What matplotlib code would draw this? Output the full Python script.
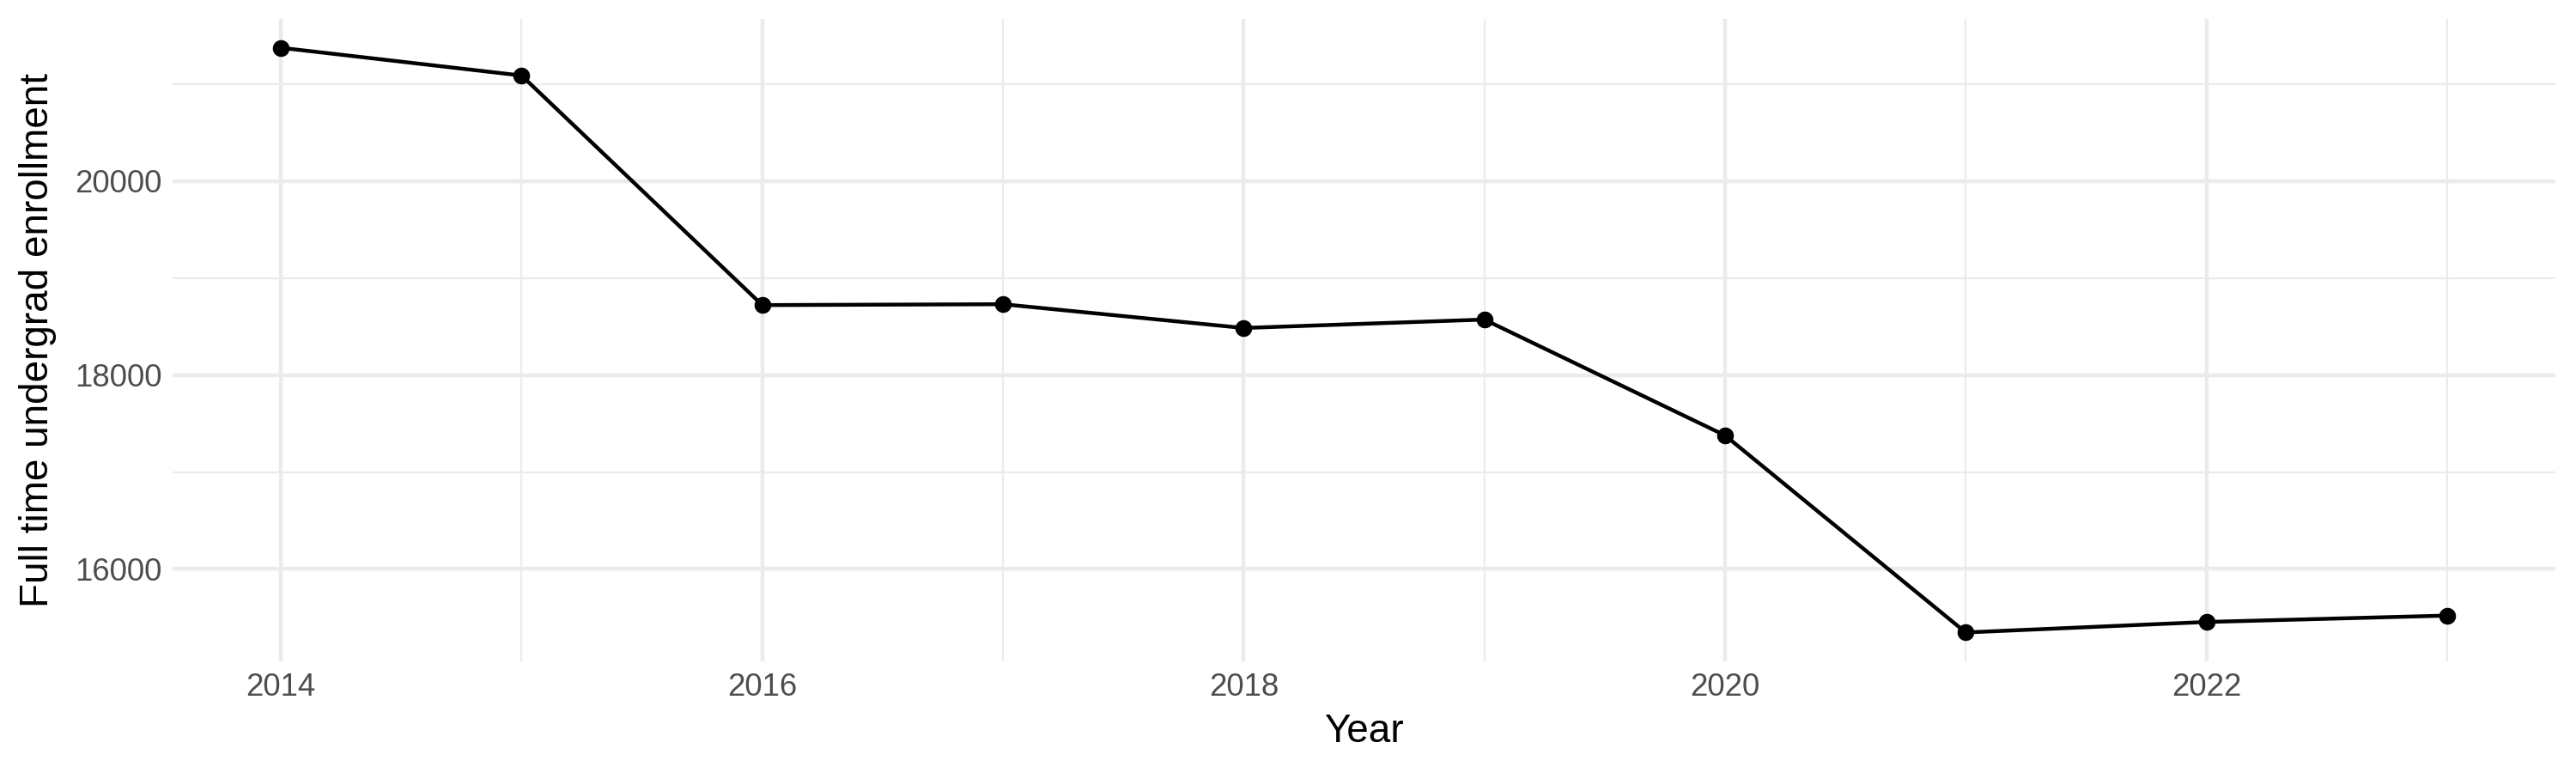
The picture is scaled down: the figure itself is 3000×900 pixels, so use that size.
import matplotlib
matplotlib.use("Agg")
import matplotlib.pyplot as plt
from matplotlib.ticker import MultipleLocator

years = [2014, 2015, 2016, 2017, 2018, 2019, 2020, 2021, 2022, 2023]
enrollment = [21372, 21086, 18720, 18729, 18484, 18571, 17377, 15346, 15454, 15520]
y_ticks = [16000, 18000, 20000]
x_ticks = [2014, 2016, 2018, 2020, 2022]

plt.rcParams['font.family'] = ['Liberation Sans', 'DejaVu Sans']

fig = plt.figure(figsize=(10, 3), dpi=300)
ax = fig.add_axes([0.067, 0.144, 0.925, 0.832])

ax.plot(years, enrollment, color='black', linewidth=1.07, zorder=3)
ax.scatter(years, enrollment, color='black', s=22, zorder=4, linewidths=0)

xr = max(years) - min(years)
ax.set_xlim(min(years) - 0.05 * xr, max(years) + 0.05 * xr)
yr = max(enrollment) - min(enrollment)
ax.set_ylim(min(enrollment) - 0.05 * yr, max(enrollment) + 0.05 * yr)

ax.set_xticks(x_ticks)
ax.set_yticks(y_ticks)
ax.xaxis.set_minor_locator(MultipleLocator(1))
ax.yaxis.set_minor_locator(MultipleLocator(1000))

ax.grid(which='major', color='#EBEBEB', linewidth=1.07)
ax.grid(which='minor', color='#EBEBEB', linewidth=0.55)
ax.set_axisbelow(True)
for s in ax.spines.values():
    s.set_visible(False)
ax.tick_params(which='both', length=0)
ax.tick_params(axis='both', labelsize=8.8, labelcolor='#4D4D4D', pad=3)

ax.set_xlabel('Year', fontsize=11, labelpad=3)
ax.set_ylabel('Full time undergrad enrollment', fontsize=11, labelpad=5)

fig.savefig('out.png', dpi=300, facecolor='white')
